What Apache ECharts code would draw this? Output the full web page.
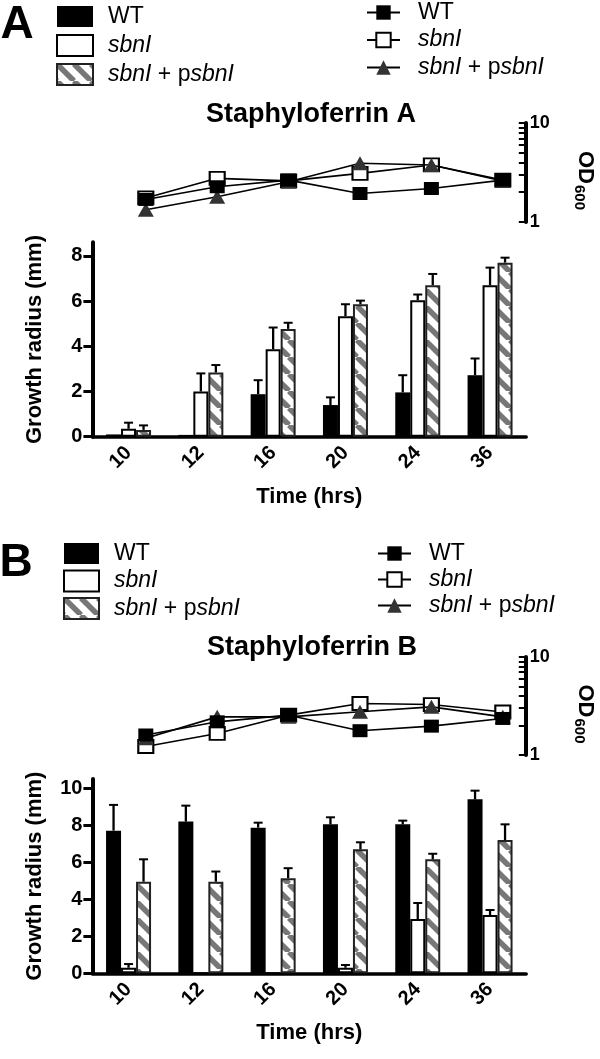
<!DOCTYPE html>
<html><head><meta charset="utf-8">
<script src="https://cdn.jsdelivr.net/npm/echarts@6/dist/echarts.min.js"></script>
<style>html,body{margin:0;padding:0;background:#fff}#c{width:600px;height:1059px}</style>
</head><body><div id="c"></div><script>
// ---------- data ----------
const categories = ['10', '12', '16', '20', '24', '36'];
const radiusTicksA = [0, 2, 4, 6, 8];
const radiusTicksB = [0, 2, 4, 6, 8, 10];
const odTicks = [1, 2, 3, 4, 5, 6, 7, 8, 9, 10];
const odLabels = [1, 10];

// Panel A (Staphyloferrin A) growth radius (mm): mean and SD
const radiusWtA = [0.1, 0.08, 1.88, 1.4, 1.96, 2.72];
const sdWtA = [0, 0, 0.62, 0.34, 0.76, 0.74];
const radiusSbnA = [0.35, 2.0, 3.87, 5.33, 6.04, 6.7];
const sdSbnA = [0.27, 0.8, 0.96, 0.53, 0.25, 0.78];
const radiusCompA = [0.3, 2.84, 4.77, 5.86, 6.7, 7.7];
const sdCompA = [0.2, 0.33, 0.27, 0.16, 0.5, 0.22];

// Panel B (Staphyloferrin B) growth radius (mm)
const radiusWtB = [7.71, 8.2, 7.87, 8.05, 8.05, 9.4];
const sdWtB = [1.39, 0.86, 0.27, 0.38, 0.2, 0.47];
const radiusSbnB = [0.3, 0, 0, 0.3, 2.93, 3.15];
const sdSbnB = [0.2, 0, 0, 0.15, 0.87, 0.27];
const radiusCompB = [4.95, 4.95, 5.14, 6.7, 6.16, 7.2];
const sdCompB = [1.21, 0.55, 0.54, 0.38, 0.3, 0.85];

// OD600 (log scale)
const odWtA = [1.69, 2.27, 2.65, 1.94, 2.18, 2.65];
const odSbnA = [1.75, 2.76, 2.6, 3.1, 3.77, 2.65];
const odCompA = [1.33, 1.8, 2.55, 3.92, 3.77, 2.6];
const odWtB = [1.6, 2.18, 2.55, 1.77, 1.97, 2.36];
const odSbnB = [1.22, 1.66, 2.55, 3.35, 3.27, 2.75];
const odCompB = [1.48, 2.45, 2.45, 2.76, 3.1, 2.45];

// ---------- styling ----------
const FF = '"Liberation Sans", Arial, Helvetica, sans-serif';
const hatch = (function () {
  const s = 17, c = document.createElement('canvas');
  c.width = s; c.height = s;
  const g = c.getContext('2d');
  g.fillStyle = '#fff'; g.fillRect(0, 0, s, s);
  g.strokeStyle = '#777'; g.lineWidth = 5.5;
  for (const o of [-s, 0, s]) { g.beginPath(); g.moveTo(o, 0); g.lineTo(o + s, s); g.stroke(); }
  return { image: c, repeat: 'repeat' };
})();

const labelRich = {
  n: { fontFamily: FF, fontSize: 23, color: '#000', lineHeight: 22 },
  i: { fontFamily: FF, fontSize: 23, fontStyle: 'italic', color: '#000', lineHeight: 22 }
};
const labelText = { WT: '{n|WT}', sbnI: '{i|sbnI}', comp: '{i|sbnI}{n| + p}{i|sbnI}' };
const fmt = name => labelText[name.split('#')[0]];

function barGrid(top, height) { return { left: 92.4, top: top, width: 433.8, height: height, outerBoundsMode: 'none' }; }
function lineGrid(top, height) { return { left: 145.8, top: top, width: 357, height: height, outerBoundsMode: 'none' }; }

function barXAxis(gi) {
  return {
    type: 'category', gridIndex: gi, data: categories,
    axisLine: { lineStyle: { color: '#000', width: 3.5 } },
    axisTick: { show: false },
    axisLabel: { rotate: 45, fontFamily: FF, fontWeight: 'bold', fontSize: 20, color: '#000', margin: 13 },
    name: 'Time (hrs)', nameLocation: 'middle', nameGap: 49,
    nameTextStyle: { fontFamily: FF, fontWeight: 'bold', fontSize: 22, color: '#000' }
  };
}
function barYAxis(gi, max, ticks) {
  return {
    type: 'value', gridIndex: gi, min: 0, max: max,
    axisLine: { show: true, lineStyle: { color: '#000', width: 4 } },
    axisTick: { show: true, length: 9, lineStyle: { color: '#000', width: 3 }, customValues: ticks },
    axisLabel: { fontFamily: FF, fontWeight: 'bold', fontSize: 20, color: '#000', margin: 10, customValues: ticks },
    splitLine: { show: false },
    name: 'Growth radius (mm)', nameLocation: 'middle', nameGap: 46,
    nameTextStyle: { fontFamily: FF, fontWeight: 'bold', fontSize: 22, color: '#000' }
  };
}
function lineXAxis(gi) {
  return { type: 'category', gridIndex: gi, data: categories, boundaryGap: false,
    axisLine: { show: false }, axisTick: { show: false }, axisLabel: { show: false } };
}
function lineYAxis(gi) {
  return {
    type: 'log', logBase: 10, gridIndex: gi, min: 1, max: 10, position: 'right', offset: 23,
    axisLine: { show: true, lineStyle: { color: '#000', width: 4 } },
    axisTick: { show: true, inside: true, length: 7, lineStyle: { color: '#000', width: 2 }, customValues: odTicks },
    axisLabel: { fontFamily: FF, fontWeight: 'bold', fontSize: 18, color: '#000', margin: 4, customValues: odLabels },
    splitLine: { show: false }, minorTick: { show: false },
    name: '{a|OD}{b|600}', nameLocation: 'middle', nameRotate: -90, nameGap: 46,
    nameTextStyle: { rich: {
      a: { fontFamily: FF, fontWeight: 'bold', fontSize: 22, color: '#000', padding: [0, 0, 0, 16] },
      b: { fontFamily: FF, fontWeight: 'bold', fontSize: 15, color: '#000', padding: [11, 0, 0, 1] }
    } }
  };
}

function bars(name, gi, vals, style) {
  return { type: 'bar', name: name, xAxisIndex: gi, yAxisIndex: gi, data: vals, barWidth: 15, barGap: '0%',
    itemStyle: style, z: 2, silent: true };
}
function errs(gi, vals, sds, offset) {
  return {
    type: 'custom', xAxisIndex: gi, yAxisIndex: gi, z: 3, silent: true,
    data: vals.map((v, i) => [i, v, sds[i]]),
    encode: { x: 0, y: 1 },
    renderItem: function (params, api) {
      const i = api.value(0), v = api.value(1), s = api.value(2);
      if (!s) return { type: 'group', children: [] };
      const p0 = api.coord([i, v]), p1 = api.coord([i, v + s]);
      const x = p0[0] + offset;
      return { type: 'group', children: [
        { type: 'line', shape: { x1: x, y1: p0[1], x2: x, y2: p1[1] }, style: { stroke: '#000', lineWidth: 2.3 } },
        { type: 'line', shape: { x1: x - 4.5, y1: p1[1], x2: x + 4.5, y2: p1[1] }, style: { stroke: '#000', lineWidth: 2 } }
      ] };
    }
  };
}
function lineSeries(name, gi, vals, symbol, size, itemStyle, z) {
  return { type: 'line', name: name, xAxisIndex: gi, yAxisIndex: gi, data: vals,
    symbol: symbol, symbolSize: size, showSymbol: true, itemStyle: itemStyle,
    lineStyle: { color: '#000', width: 1.6 }, z: z, silent: true, animation: false };
}

const sWT = { color: '#000' };
const sSbn = { color: '#fff', borderColor: '#000', borderWidth: 2 };
const sComp = { color: hatch, borderColor: '#222', borderWidth: 2 };
const mWT = { color: '#000' };
const mSbn = { color: '#fff', borderColor: '#000', borderWidth: 2 };
const mComp = { color: '#333' };

function barLegend(left, top, w, gap, tag) {
  return { orient: 'vertical', left: left, top: top, padding: 0, itemWidth: w, itemHeight: 21, itemGap: gap, icon: 'rect',
    selectedMode: false, data: ['WT#' + tag, 'sbnI#' + tag, 'comp#' + tag], formatter: fmt,
    textStyle: { rich: labelRich, padding: [0, 0, 0, 10] } };
}
function lineLegend(left, top, gap, tag) {
  return { orient: 'vertical', left: left, top: top, padding: 0, itemWidth: 33, itemHeight: 18, itemGap: gap,
    selectedMode: false, data: ['WT#' + tag, 'sbnI#' + tag, 'comp#' + tag], formatter: fmt,
    textStyle: { rich: labelRich, padding: [0, 0, 0, 13] } };
}

const txt = (x, y, text, size, extra) => ({ type: 'text', x: x, y: y,
  style: Object.assign({ text: text, fontFamily: FF, fontWeight: 'bold', fontSize: size, fill: '#000', align: 'center', verticalAlign: 'middle' }, extra || {}) });

const option = {
  animation: false,
  backgroundColor: '#fff',
  grid: [barGrid(242.3, 194.4), lineGrid(123, 99), barGrid(779, 194.3), lineGrid(657, 98)],
  xAxis: [barXAxis(0), lineXAxis(1), barXAxis(2), lineXAxis(3)],
  yAxis: [barYAxis(0, 8.6, radiusTicksA), lineYAxis(1), barYAxis(2, 10.5, radiusTicksB), lineYAxis(3)],
  legend: [barLegend(56, 5, 36, 6, 'barA'), lineLegend(366, 1, 4.5, 'lineA'),
           barLegend(63, 542, 35, 4.5, 'barB'), lineLegend(377, 542, 3, 'lineB')],
  graphic: [
    txt(17, 25, 'A', 46),
    txt(311, 115, 'Staphyloferrin A', 27),
    txt(16, 563, 'B', 46),
    txt(312, 648, 'Staphyloferrin B', 27)
  ],
  series: [
    bars('WT#barA', 0, radiusWtA, sWT),
    bars('sbnI#barA', 0, radiusSbnA, sSbn),
    bars('comp#barA', 0, radiusCompA, sComp),
    errs(0, radiusWtA, sdWtA, -15),
    errs(0, radiusSbnA, sdSbnA, 0),
    errs(0, radiusCompA, sdCompA, 15),
    lineSeries('sbnI#lineA', 1, odSbnA, 'rect', [15, 13], mSbn, 3),
    lineSeries('comp#lineA', 1, odCompA, 'triangle', [16, 14], mComp, 4),
    lineSeries('WT#lineA', 1, odWtA, 'rect', [15, 13], mWT, 5),
    bars('WT#barB', 2, radiusWtB, sWT),
    bars('sbnI#barB', 2, radiusSbnB, sSbn),
    bars('comp#barB', 2, radiusCompB, sComp),
    errs(2, radiusWtB, sdWtB, -15),
    errs(2, radiusSbnB, sdSbnB, 0),
    errs(2, radiusCompB, sdCompB, 15),
    lineSeries('sbnI#lineB', 3, odSbnB, 'rect', [15, 13], mSbn, 3),
    lineSeries('comp#lineB', 3, odCompB, 'triangle', [16, 14], mComp, 4),
    lineSeries('WT#lineB', 3, odWtB, 'rect', [15, 13], mWT, 5)
  ]
};
const chart = echarts.init(document.getElementById('c'), null, { renderer: 'canvas' });
chart.setOption(option);
</script></body></html>
